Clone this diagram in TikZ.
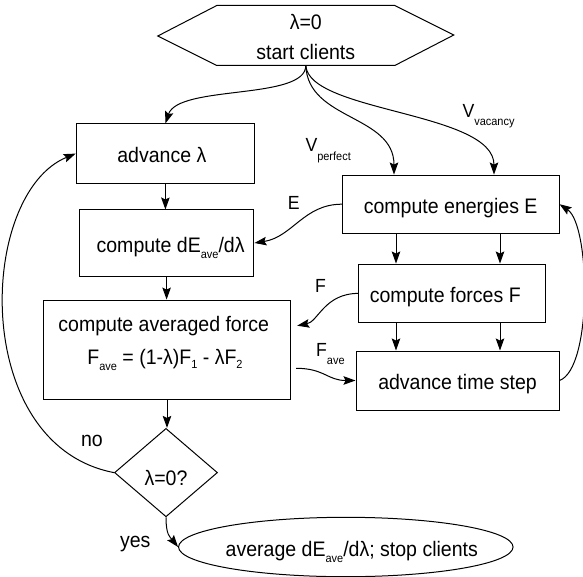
\documentclass[tikz,border=0pt]{standalone}
\usepackage{fontspec}
\setmainfont{Liberation Sans}[FakeStretch=0.93]
\usetikzlibrary{arrows.meta,shapes.geometric,calc}
\newcommand{\mainfs}{\fontsize{21}{24}\selectfont}
\newcommand{\lblfs}{\fontsize{19}{22}\selectfont}
\newcommand{\sbs}[2][6]{\raisebox{-#1pt}{\fontsize{11.8}{13}\selectfont #2}}
\begin{document}
\begin{tikzpicture}[x=1pt,y=-1pt,line width=1pt,
  box/.style={draw,rectangle,inner sep=0pt,text height=19pt,text depth=1pt,font=\mainfs},
  txt/.style={inner sep=0pt,font=\mainfs},
  lbl/.style={inner sep=0pt,font=\lblfs},
  arr/.style={-{Stealth[length=12pt,width=8.5pt,inset=2pt]}}]
\useasboundingbox (0,0) rectangle (583,577);

% start hexagon
\node[minimum width=177,minimum height=59,inner sep=0pt] (hex) at (305.8,35.5) {};
\draw (hex.north west) -- (hex.north east) -- ++(59,29.5) -- (hex.south east)
      -- (hex.south west) -- ++(-59,-29.5) -- cycle;
\node[txt,anchor=base] (hext1) at ($(hex.center)+(0,-5.5)$) {λ=0};
\node[txt,anchor=base] (hext2) at ($(hex.center)+(0,24.5)$) {start clients};

% left column
\node[box,minimum width=178.4,minimum height=59.3] (adv) at (165.4,153.6) {advance λ\kern7pt};
\node[box,minimum width=174.7,minimum height=66] (dE) at (166.6,243) {\kern8pt compute dE\sbs{ave}/dλ};
\node[draw,rectangle,minimum width=247.4,minimum height=99.3,inner sep=0pt] (avg) at (167,349.7) {};
\node[txt,anchor=base] (avg1) at ($(avg.north)+(-3.3,31.7)$) {compute averaged force};
\node[txt,anchor=base] (avg2) at ($(avg.north)+(-2,65)$) {F\sbs{ave} = (1-λ)F\sbs[3.5]{1} - λF\sbs[3.5]{2}};
\node[draw,diamond,minimum width=103,minimum height=88.4,inner sep=0pt,text height=25pt,text depth=0pt,font=\mainfs] (dia) at (166,472.6) {λ=0?};
\node[draw,ellipse,minimum width=334.5,minimum height=59.4,inner sep=0pt,text height=19pt,text depth=1pt,font=\mainfs] (el) at (345.8,547) {\makebox[0pt]{\kern12pt average dE\sbs{ave}/dλ; stop clients}};

% right column
\node[box,minimum width=216.7,minimum height=58.3] (en) at (450.7,204.2) {compute energies E};
\node[box,minimum width=186.7,minimum height=58.7] (fo) at (452.3,293.4) {compute forces F\kern14pt};
\node[box,minimum width=203,minimum height=59] (ts) at (457.5,380.5) {advance time step};

% helper coordinates
\coordinate (vA) at (394,0);
\coordinate (vB) at (494,0);
\coordinate (cA) at (396,0);
\coordinate (cB) at (500,0);
\coordinate (fin) at ($(avg.east)+(6,-24)$);
\coordinate (fout) at ($(avg.east)+(5,18.6)$);

% connectors from start
\draw[arr] (hex.south) .. controls +(0,35) and +(13,-39) .. (adv.north);
\draw[arr] (hex.south) .. controls +(2,55) and +(0,-60) .. (en.north -| vA);
\draw[arr] (hex.south) .. controls +(3,47) and +(0,-63) .. (en.north -| vB);

% left column flow
\draw[arr] (adv.south) -- (adv.south |- dE.north);
\draw[arr] (dE.south) -- (dE.south |- avg.north);
\draw[arr] (avg.south) -- (avg.south |- dia.north);

% right column flow
\draw[arr] (en.south -| cA) -- (fo.north -| cA);
\draw[arr] (en.south -| cB) -- (fo.north -| cB);
\draw[arr] (fo.south -| cA) -- (ts.north -| cA);
\draw[arr] (fo.south -| cB) -- (ts.north -| cB);

% cross connectors
\draw[arr] (en.west) .. controls +(-38,0) and +(38,-6) .. (dE.east);
\draw[arr] (fo.west) .. controls +(-34,0) and +(21,-4) .. (fin);
\draw[arr] (fout) .. controls +(28,0) and +(-28,0) .. (ts.west);

% loops
\draw[arr] (ts.east) .. controls +(33,-12) and +(31,21) .. (en.east);
\draw[arr] (dia.west) .. controls +(-144.5,-27.7) and +(-98,40) .. (adv.west);
\draw[arr] (dia.south) .. controls +(0,18) and +(-8,-10) .. (el.west);

% labels
\node[lbl,anchor=base west] (vperf) at (305,151.7) {V\sbs[9]{perfect}};
\node[lbl,anchor=base west] (vvac) at (462,117.3) {V\sbs[8]{vacancy}};
\node[lbl] (lE) at (293.7,203.3) {E};
\node[lbl] (lF) at (320.5,286) {F};
\node[lbl,anchor=base west] (lFave) at (315.7,356.7) {F\sbs[8]{ave}};
\node[txt,anchor=base] (lno) at (92,446.7) {no};
\node[txt,anchor=base] (lyes) at (135.2,547) {yes};
\end{tikzpicture}
\end{document}
